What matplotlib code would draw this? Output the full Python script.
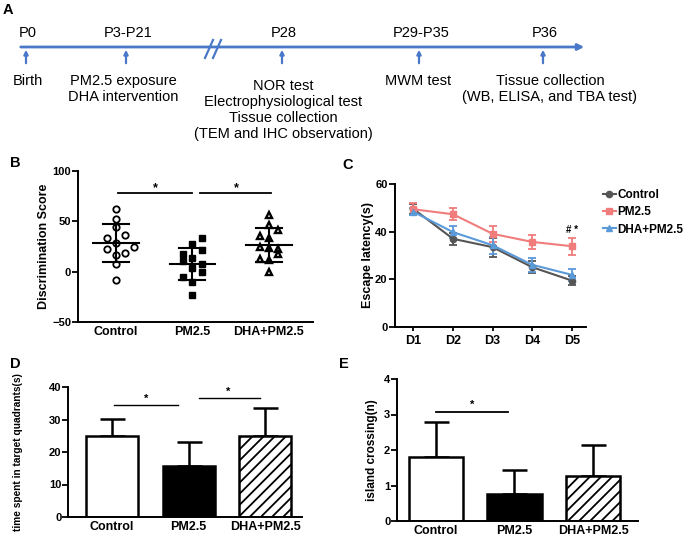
import numpy as np
import matplotlib
matplotlib.use('Agg')
import matplotlib.pyplot as plt
from matplotlib.lines import Line2D

plt.rcParams['font.family'] = ['Liberation Sans', 'DejaVu Sans']
plt.rcParams['hatch.linewidth'] = 1.3

W, H = 685, 538

# ---------------- data ----------------
# A: timeline
tl_days = ['P0', 'P3-P21', 'P28', 'P29-P35', 'P36']
tl_events = ['Birth',
             'PM2.5 exposure\nDHA intervention',
             'NOR test\nElectrophysiological test\nTissue collection\n(TEM and IHC observation)',
             'MWM test',
             'Tissue collection\n(WB, ELISA, and TBA test)']

# B: discrimination score (individual animals)
groups = ['Control', 'PM2.5', 'DHA+PM2.5']
b_ctrl = [62, 52, 44, 36, 33, 28, 25, 23, 19, 17, 8, -8]
b_pm = [33, 27, 22, 18, 14, 11, 7.5, 4, -0.5, -5, -10, -23.5]
b_dha = [56, 46, 41.5, 35, 33, 25, 23.5, 22.5, 17.5, 13, 12, 0]
b_mean = [28.3, 7.8, 26.6]
b_sd = [18.9, 16.2, 17.0]

# C: escape latency
days = ['D1', 'D2', 'D3', 'D4', 'D5']
c_ctrl = [49.5, 37.0, 33.5, 25.1, 19.5]
c_ctrl_err = [2.0, 2.5, 4.0, 2.5, 2.0]
c_pm = [49.4, 47.3, 39.1, 35.7, 33.9]
c_pm_err = [2.5, 2.5, 3.3, 3.0, 3.5]
c_dha = [48.3, 39.8, 34.3, 26.1, 21.9]
c_dha_err = [1.5, 2.5, 3.5, 3.0, 2.5]

# D: time in target quadrant
d_mean = [24.9, 15.7, 24.9]
d_sd = [5.4, 7.3, 8.6]

# E: island crossing
e_mean = [1.81, 0.77, 1.26]
e_sd = [0.99, 0.66, 0.89]


def fx(px):
    return px / W


def fy(py):
    return 1 - py / H


def add_ax(left, top, right, bottom):
    return fig.add_axes([fx(left), fy(bottom), fx(right) - fx(left), (bottom - top) / H])


def style_ax(ax, xlen=0):
    for s in ['top', 'right']:
        ax.spines[s].set_visible(False)
    for s in ['left', 'bottom']:
        ax.spines[s].set_linewidth(1.4)
    ax.tick_params(axis='y', length=4, width=1.3, labelsize=8, pad=1)
    ax.tick_params(axis='x', length=xlen, width=1.3, labelsize=9, pad=3)
    for lab in ax.get_xticklabels() + ax.get_yticklabels():
        lab.set_fontweight('bold')


fig = plt.figure(figsize=(W / 100, H / 100), dpi=100)

# ---------------- A: timeline ----------------
blue = '#4a78c8'
axa = fig.add_axes([0, 0, 1, 1])
axa.set_xlim(0, W)
axa.set_ylim(H, 0)
axa.axis('off')
tl_x = [26, 126, 282, 419, 543]
lab_x = [28, 123, 283, 418, 550]
lab_y = [74, 74, 79, 74, 74]
axa.annotate('', xy=(587, 47), xytext=(18, 47),
             arrowprops=dict(arrowstyle='-|>', color=blue, lw=2, mutation_scale=9))
axa.plot([205, 213], [58, 40], color=blue, lw=1.6)
axa.plot([213, 221], [58, 40], color=blue, lw=1.6)
for x, d, ev, lx, ly in zip(tl_x, tl_days, tl_events, lab_x, lab_y):
    axa.annotate('', xy=(x, 47), xytext=(x, 66),
                 arrowprops=dict(arrowstyle='-|>', color=blue, lw=1.6, mutation_scale=6))
    axa.text(x + 2, 33, d, ha='center', va='center', fontsize=10.5)
    axa.text(lx, ly, ev, ha='center', va='top', fontsize=10.5, linespacing=1.18)

# panel letters
for lt, px, py in [('A', 8, 10), ('B', 15, 163), ('C', 348, 165), ('D', 15, 364), ('E', 344, 364)]:
    fig.text(fx(px), fy(py), lt, fontsize=10.5, fontweight='bold', ha='center', va='center')

# ---------------- B: scatter ----------------
axb = add_ax(78, 171, 313, 322)
off = 0.12
b_off = [[0, 0, 0, 1, -1, 0, 2, -1, 1, 0, 0, 0],
         [1, 0, 1, -1, 0, -1, 1, 0, 1, -1, 0, 0],
         [0, 0, 1, -1, 0, -1, 0, 1, 1, -1, 0, 0]]
b_vals = [b_ctrl, b_pm, b_dha]
mk = [dict(marker='o', mfc='white', mec='black', mew=1.3, ms=4.6),
      dict(marker='s', mfc='black', mec='black', mew=1.0, ms=4.2),
      dict(marker='^', mfc='white', mec='black', mew=1.7, ms=4.8)]
for i, (vals, o) in enumerate(zip(b_vals, b_off)):
    xs = i + np.array(o) * off
    axb.plot(xs, vals, ls='none', zorder=3, **mk[i])
    m, s = b_mean[i], b_sd[i]
    axb.plot([i - 0.3, i + 0.3], [m, m], color='black', lw=1.5, zorder=4)
    axb.plot([i - 0.17, i + 0.17], [m + s, m + s], color='black', lw=1.5, zorder=4)
    axb.plot([i - 0.17, i + 0.17], [m - s, m - s], color='black', lw=1.5, zorder=4)
    axb.plot([i, i], [m - s, m + s], color='black', lw=1.5, zorder=4)
axb.plot([0.03, 0.99], [78, 78], color='black', lw=1.3)
axb.plot([1.1, 2.03], [78, 78], color='black', lw=1.3)
axb.text(0.51, 83, '*', ha='center', va='center', fontsize=9, fontweight='bold')
axb.text(1.57, 83, '*', ha='center', va='center', fontsize=9, fontweight='bold')
axb.set_xlim(-0.5, 2.58)
axb.set_ylim(-50, 100)
axb.set_yticks([-50, 0, 50, 100])
axb.set_xticks(range(3))
axb.set_xticklabels(groups)
axb.set_ylabel('Discrimination Score', fontsize=9, fontweight='bold')
axb.yaxis.set_label_coords((50 - 78) / (313 - 78), 0.5)
style_ax(axb)

# ---------------- C: lines ----------------
axc = add_ax(394.5, 184, 586, 327)
xd = np.arange(len(days))
c_sets = [(c_ctrl, c_ctrl_err, '#555555', 'o', 'Control'),
          (c_pm, c_pm_err, '#f07c7c', 's', 'PM2.5'),
          (c_dha, c_dha_err, '#5b9ad8', '^', 'DHA+PM2.5')]
handles = []
for vals, err, col, m, lab in c_sets:
    axc.errorbar(xd, vals, yerr=err, color=col, marker=m, ms=4.5, lw=1.5,
                 capsize=3, elinewidth=1.3, capthick=1.3)
    handles.append(Line2D([], [], color=col, marker=m, ms=4.5, lw=1.5, label=lab))
axc.text(4, 40.5, '# *', ha='center', va='center', fontsize=7, fontweight='bold')
axc.set_xlim(-0.48, 4.36)
axc.set_ylim(0, 60)
axc.set_yticks([0, 20, 40, 60])
axc.set_xticks(xd)
axc.set_xticklabels(days)
axc.set_ylabel('Escape latency(s)', fontsize=9, fontweight='bold')
axc.yaxis.set_label_coords((374 - 394.5) / (586 - 394.5), 0.5)
style_ax(axc, xlen=3)
leg = axc.legend(handles=handles, loc='upper left', bbox_to_anchor=(fx(603), fy(189)),
                 bbox_transform=fig.transFigure, frameon=False, handlelength=1.1,
                 handletextpad=0.1, labelspacing=0.45, borderaxespad=0, borderpad=0,
                 prop=dict(weight='bold', size=8.5))

# ---------------- D: bars ----------------
axd = add_ax(68.3, 387, 302, 517)
faces = ['white', 'black', 'white']
hatches = [None, None, '///']
xb = np.arange(3)
for i in range(3):
    axd.bar(xb[i], d_mean[i], width=0.68, color=faces[i], edgecolor='black',
            linewidth=1.8, hatch=hatches[i], zorder=2)
axd.errorbar(xb, d_mean, yerr=[np.zeros(3), d_sd], fmt='none', ecolor='black',
             elinewidth=1.8, capsize=9, capthick=1.8, zorder=1)
axd.plot([0.03, 0.86], [34.4, 34.4], color='black', lw=1.0)
axd.plot([1.14, 1.93], [36.6, 36.6], color='black', lw=1.0)
axd.text(0.45, 36.3, '*', ha='center', va='center', fontsize=8, fontweight='bold')
axd.text(1.52, 38.5, '*', ha='center', va='center', fontsize=8, fontweight='bold')
axd.set_xlim(-0.57, 2.48)
axd.set_ylim(0, 40)
axd.set_yticks([0, 10, 20, 30, 40])
axd.set_xticks(xb)
axd.set_xticklabels(groups)
axd.set_ylabel('time spent in target quadrants(s)', fontsize=7.3, fontweight='bold')
axd.yaxis.set_label_coords((23 - 68.3) / (302 - 68.3), 0.5)
style_ax(axd)

# ---------------- E: bars ----------------
axe = add_ax(397.2, 379, 638, 521)
for i in range(3):
    axe.bar(xb[i], e_mean[i], width=0.69, color=faces[i], edgecolor='black',
            linewidth=1.8, hatch=hatches[i], zorder=2)
axe.errorbar(xb, e_mean, yerr=[np.zeros(3), e_sd], fmt='none', ecolor='black',
             elinewidth=1.8, capsize=9, capthick=1.8, zorder=1)
axe.plot([0.0, 0.92], [3.08, 3.08], color='black', lw=1.3)
axe.text(0.46, 3.27, '*', ha='center', va='center', fontsize=8, fontweight='bold')
axe.set_xlim(-0.49, 2.57)
axe.set_ylim(0, 4)
axe.set_yticks([0, 1, 2, 3, 4])
axe.set_xticks(xb)
axe.set_xticklabels(groups)
axe.set_ylabel('island crossing(n)', fontsize=8.5, fontweight='bold')
axe.yaxis.set_label_coords((378 - 397.2) / (638 - 397.2), 0.5)
style_ax(axe)

fig.savefig('out.png', dpi=100)
